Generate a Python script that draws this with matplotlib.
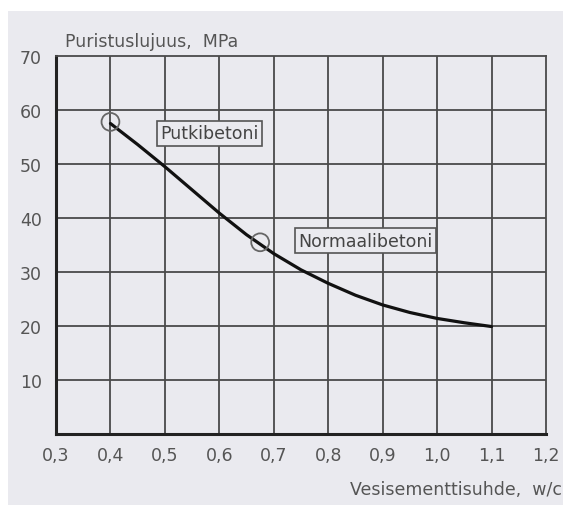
import matplotlib.pyplot as plt
from matplotlib.patches import Rectangle

# values
wc = [0.40, 0.45, 0.50, 0.55, 0.60, 0.65, 0.70, 0.75,
      0.80, 0.85, 0.90, 0.95, 1.00, 1.05, 1.10]
strength = [57.5, 53.6, 49.5, 45.2, 40.9, 36.9, 33.4, 30.4,
            27.9, 25.7, 23.9, 22.5, 21.4, 20.6, 19.9]

marker_x = [0.4, 0.675]
marker_y = [57.8, 35.5]
labels = ["Putkibetoni", "Normaalibetoni"]
label_pos = [(0.491, 55.7), (0.745, 35.8)]

x_ticks = [0.3, 0.4, 0.5, 0.6, 0.7, 0.8, 0.9, 1.0, 1.1, 1.2]
y_ticks = [10, 20, 30, 40, 50, 60, 70]

grid_col = "#4a4a4a"
text_col = "#555555"
bg = "#eaeaef"

fig = plt.figure(figsize=(5.7, 5.06), dpi=100)
fig.patch.set_facecolor("white")
# grey scan background
fig.patches.append(Rectangle((8 / 570, 0), (563 - 8) / 570, (506 - 12) / 506,
                             transform=fig.transFigure, facecolor=bg,
                             edgecolor="none", zorder=-5))

ax = fig.add_axes([56 / 570, 71 / 506, 490 / 570, 378 / 506])
ax.set_facecolor(bg)
ax.set_xlim(0.3, 1.2)
ax.set_ylim(0, 70)

for x in x_ticks[1:-1]:
    ax.axvline(x, color=grid_col, lw=1.3, zorder=1)
for y in y_ticks[:-1]:
    ax.axhline(y, color=grid_col, lw=1.3, zorder=1)

for side in ["top", "right"]:
    ax.spines[side].set_color(grid_col)
    ax.spines[side].set_linewidth(1.3)
for side in ["left", "bottom"]:
    ax.spines[side].set_color("#222222")
    ax.spines[side].set_linewidth(2.2)

ax.plot(wc, strength, color="#111111", lw=2.3, zorder=3,
        solid_capstyle="round", solid_joinstyle="round")
ax.scatter(marker_x, marker_y, s=165, facecolors="none", edgecolors="#666666",
           linewidths=1.3, zorder=4)

for txt, (lx, ly) in zip(labels, label_pos):
    ax.text(lx, ly, txt, fontsize=12.5, color="#444444", va="center", ha="left",
            zorder=5,
            bbox=dict(boxstyle="square,pad=0.2", facecolor=bg,
                      edgecolor="#555555", lw=1.2))

ax.set_xticks(x_ticks)
ax.set_xticklabels([f"{v:.1f}".replace(".", ",") for v in x_ticks])
ax.set_yticks(y_ticks)
ax.tick_params(length=0, labelsize=12.5, labelcolor=text_col)
ax.tick_params(axis="x", pad=9)
ax.tick_params(axis="y", pad=10)

fig.text(65 / 570, 1 - 42 / 506, "Puristuslujuus,  MPa", fontsize=12.5,
         color=text_col, va="center", ha="left")
fig.text(562 / 570, 1 - 490 / 506, "Vesisementtisuhde,  w/c", fontsize=12.5,
         color=text_col, va="center", ha="right")

fig.savefig("out.png", dpi=100, facecolor=fig.get_facecolor())
